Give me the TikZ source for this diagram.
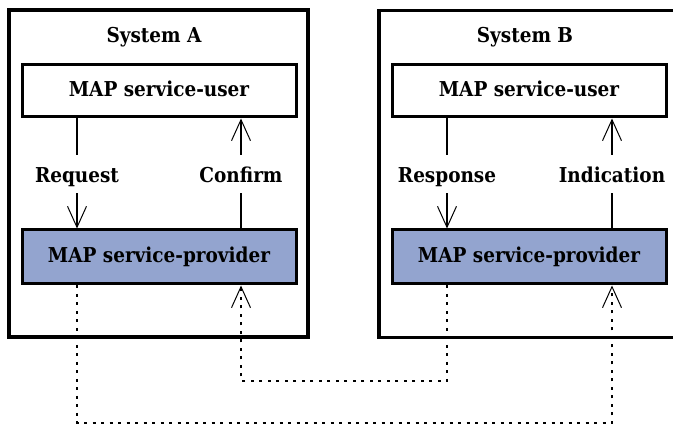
\documentclass[tikz,border=0pt]{standalone}
\usepackage{fontspec}
\setmainfont{DejaVu Serif Condensed}
\usetikzlibrary{arrows.meta}
\definecolor{provblue}{RGB}{147,164,207}
\tikzset{
x=1pt, y=1pt,
every node/.style={font=\fontsize{20.5}{24}\selectfont\bfseries,text height=15pt,text depth=4pt},
system/.style={line width=3.3pt,rectangle,draw=black,minimum width=299pt,minimum height=327pt,inner sep=0pt},
user/.style={line width=3pt,rectangle,draw=black,minimum width=274pt,minimum height=52pt,inner sep=0pt},
provider/.style={user,fill=provblue,minimum height=54pt},
prim/.style={inner sep=0pt,minimum height=38pt,text height=19pt,text depth=1pt},
flow/.style={line width=1.2pt,draw=black},
peer/.style={line width=2pt,draw=black,dash pattern=on 3pt off 5.5pt},
>={Straight Barb[length=21pt,width=19pt,line width=1pt]},
}
\tikzstyle{title} = [inner sep=0pt, anchor=base]

\begin{document}
\begin{tikzpicture}
\useasboundingbox (0,0) rectangle (673,426);
\node[system] (sysA) at (158.5,252.5) {};
\node[system,minimum width=311pt] (sysB) at (534.5,252) {};
\node[title] (titA) at (154,383) {System A};
\node[title] (titB) at (525,383) {System B};
\node[user] (userA) at (159,335) {MAP service-user};
\node[user] (userB) at (529,335) {MAP service-user};
\node[provider] (provA) at (159,169) {MAP service-provider};
\node[provider] (provB) at (529,169) {MAP service-provider};
\node[prim] (req) at (77,252) {Request};
\node[prim] (conf) at (241,252) {Confirm};
\node[prim] (resp) at (447,252) {Response};
\node[prim] (ind) at (612,252) {Indication};
\coordinate (mid) at (0,45);
\coordinate (low) at (0,3);
\draw[flow] (req |- userA.south) -- (req);
\draw[flow,->] (req) -- (req |- provA.north);
\draw[flow] (conf |- provA.north) -- (conf);
\draw[flow,->] (conf) -- (conf |- userA.south);
\draw[flow] (resp |- userB.south) -- (resp);
\draw[flow,->] (resp) -- (resp |- provB.north);
\draw[flow] (ind |- provB.north) -- (ind);
\draw[flow,->] (ind) -- (ind |- userB.south);
\draw[peer,->] (req |- provA.south) -- (req |- low) -| (ind |- provB.south);
\draw[peer,->] (resp |- provB.south) -- (resp |- mid) -| (conf |- provA.south);
\end{tikzpicture}
\end{document}
